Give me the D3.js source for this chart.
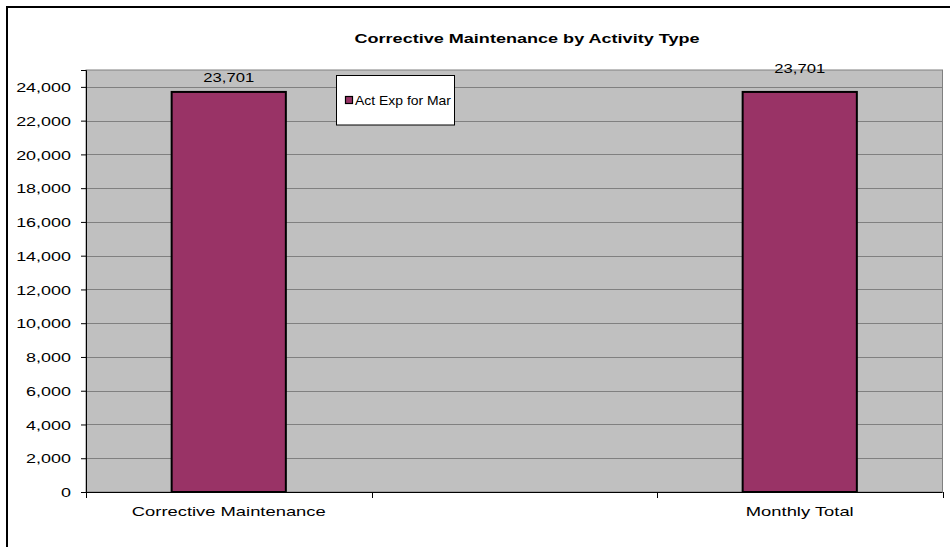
<!DOCTYPE html>
<html><head><meta charset="utf-8">
<script src="https://cdn.jsdelivr.net/npm/d3@7"></script>
<style>
body{margin:0;background:#fff;}
svg{display:block;font-family:"Liberation Sans",Arial,sans-serif;}
</style></head>
<body><svg id="c" width="950" height="547"></svg>
<script>
const title = "Corrective Maintenance by Activity Type";
const categories = ["Corrective Maintenance", "", "Monthly Total"];
const values = [23701, null, 23701];
const seriesName = "Act Exp for Mar";
const yTicks = [0,2000,4000,6000,8000,10000,12000,14000,16000,18000,20000,22000,24000];
const yMax = 25000;

const svg = d3.select("#c");
const L = 86, R = 942.5, T = 70, B = 492;
const STRETCH = 1.38;

function stretch(sel, f){
  sel.each(function(){
    const n = this.getComputedTextLength();
    this.setAttribute("textLength", n * f);
    this.setAttribute("lengthAdjust", "spacingAndGlyphs");
  });
}
function fitWidth(sel, w){
  sel.attr("textLength", w).attr("lengthAdjust","spacingAndGlyphs");
}

// outer border
svg.append("rect").attr("x",7).attr("y",7).attr("width",960).attr("height",560)
  .attr("fill","#fff").attr("stroke","#000").attr("stroke-width",2);

const x = d3.scaleBand().domain(categories.map((c,i)=>i)).range([L,R]).paddingInner(0).paddingOuter(0);
const y = d3.scaleLinear().domain([0,yMax]).range([B,T]);

// plot area
svg.append("rect").attr("x",L).attr("y",T).attr("width",R-L).attr("height",B-T)
  .attr("fill","#c0c0c0").attr("stroke","#808080").attr("stroke-width",1);

// gridlines
svg.append("g").selectAll("line").data(yTicks.filter(d=>d>0)).join("line")
  .attr("x1",L).attr("x2",R).attr("y1",d=>Math.round(y(d))+0.5).attr("y2",d=>Math.round(y(d))+0.5)
  .attr("stroke","#808080").attr("stroke-width",1);

// y axis
const yAxis = svg.append("g").attr("transform",`translate(${L},0)`)
  .call(d3.axisLeft(y).tickValues(yTicks).tickFormat(d3.format(",")).tickSize(5).tickPadding(10));
yAxis.select(".domain").attr("stroke","#000");
yAxis.selectAll(".tick line").attr("stroke","#000");
yAxis.selectAll(".tick text").attr("font-size",13).attr("fill","#000").attr("font-family","Liberation Sans, Arial, sans-serif").attr("dy","0.36em");
stretch(yAxis.selectAll(".tick text"), STRETCH);

// bars
const bw = x.bandwidth()*0.4;
svg.append("g").selectAll("rect").data(values.map((v,i)=>({v,i})).filter(d=>d.v!=null)).join("rect")
  .attr("x",d=>x(d.i)+x.bandwidth()/2-bw/2).attr("width",bw)
  .attr("y",d=>y(d.v)).attr("height",d=>B-y(d.v))
  .attr("fill","#993366").attr("stroke","#000").attr("stroke-width",2);

// data labels
const lab = svg.append("g").selectAll("text").data(values.map((v,i)=>({v,i})).filter(d=>d.v!=null)).join("text")
  .attr("x",d=>x(d.i)+x.bandwidth()/2).attr("y",(d,k)=>y(d.v)-(k===0?10:19))
  .attr("text-anchor","middle").attr("font-size",13).attr("fill","#000")
  .text(d=>d3.format(",")(d.v));
stretch(lab, 1.28);

// x axis
svg.append("line").attr("x1",L).attr("x2",R).attr("y1",B+0.5).attr("y2",B+0.5).attr("stroke","#000").attr("stroke-width",1.2);
const bounds = categories.map((c,i)=>x(i)).concat([R]);
svg.append("g").selectAll("line").data(bounds).join("line")
  .attr("x1",d=>Math.round(d)+0.5).attr("x2",d=>Math.round(d)+0.5).attr("y1",B).attr("y2",B+6)
  .attr("stroke","#000");
const cl = svg.append("g").selectAll("text").data(categories.map((c,i)=>({c,i})).filter(d=>d.c)).join("text")
  .attr("x",d=>x(d.i)+x.bandwidth()/2).attr("y",516).attr("text-anchor","middle")
  .attr("font-size",13.5).attr("fill","#000").text(d=>d.c);
stretch(cl, 1.36);

// title
const tt = svg.append("text").attr("x",527).attr("y",43).attr("text-anchor","middle")
  .attr("font-size",13).attr("font-weight","bold").attr("fill","#000").text(title);
fitWidth(tt, 345);

// legend
const lg = svg.append("g");
lg.append("rect").attr("x",336.5).attr("y",75.5).attr("width",118).attr("height",49.5)
  .attr("fill","#fff").attr("stroke","#000").attr("stroke-width",1);
lg.append("rect").attr("x",345.5).attr("y",96.5).attr("width",7).attr("height",7)
  .attr("fill","#993366").attr("stroke","#000").attr("stroke-width",1.2);
const lt = lg.append("text").attr("x",355).attr("y",105).attr("font-size",13).attr("fill","#000").text(seriesName);
fitWidth(lt, 96);
</script></body></html>
